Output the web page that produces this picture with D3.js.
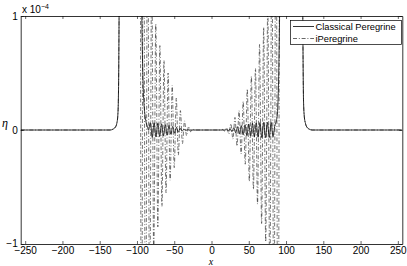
<!DOCTYPE html>
<html><head><meta charset="utf-8">
<script src="https://cdn.jsdelivr.net/npm/d3@7/dist/d3.min.js"></script>
<style>
html,body{margin:0;padding:0;background:#fff;}
svg{display:block;font-family:"Liberation Sans",Arial,sans-serif;}
</style></head><body>
<svg id="c" width="407" height="266"></svg>
<script>
// ---- data (eta in units of 1e-4) ----
const xTicks = [-250,-200,-150,-100,-50,0,50,100,150,200,250];
const yTicks = [-1,0,1];
const seriesNames = ["Classical Peregrine","iPeregrine"];

const classical = [
 [-256,0],[-136,0],[-132,0.008],[-129,0.025],[-127,0.06],[-125.8,0.12],[-125,0.25],[-124.5,0.5],[-124,1.0],[-122.5,3],
 [-96,3],[-93.5,1.0],[-92.5,0.6],[-91.5,0.35],[-90.5,0.22],[-89,0.12],[-87.5,0.06],[-86,0.03],[-84.5,0],
 [-82,0.065],[-79.5,-0.065],[-77,0.063],[-74.5,-0.061],[-72,0.059],[-69.5,-0.057],[-67,0.054],[-64.5,-0.051],
 [-62,0.047],[-59.5,-0.044],[-57,0.04],[-54.5,-0.036],[-52,0.032],[-49.5,-0.028],[-47,0.023],[-44.5,-0.019],
 [-42,0.014],[-39.5,-0.01],[-37,0.006],[-34.5,-0.004],[-32,0.002],[-29,0],
 [18,0],[20,0.003],[22.5,-0.006],[25,0.01],[27.5,-0.014],[30,0.019],[32.5,-0.024],[35,0.029],[37.5,-0.034],
 [40,0.038],[42.5,-0.042],[45,0.046],[47.5,-0.05],[50,0.053],[52.5,-0.056],[55,0.058],[57.5,-0.06],
 [60,0.062],[62.5,-0.064],[65,0.065],[67.5,-0.066],[70,0.066],[72.5,-0.066],[75,0.066],[77.5,-0.066],
 [80,0.066],[82.5,-0.06],[85,0.04],[87,0.08],[88.5,0.15],[89.5,0.3],[90.5,0.6],[91.5,1.1],[92.5,2],[94,3],
 [121,3],[122.5,1.0],[123,0.5],[123.5,0.25],[124.5,0.12],[126,0.06],[128,0.025],[131,0.008],[135,0],[256,0]
];

const iPeregrine = [
 [-256,0],[-136,0],[-132,0.008],[-129,0.025],[-127,0.06],[-125.8,0.12],[-125,0.25],[-124.5,0.5],[-124,1.0],[-122.5,3],
 [-96,3],[-94,-3],[-91.25,3],[-88.5,-2.6],[-85.75,2.2],[-83,-1.8],[-80.25,1.45],[-77.5,-1.1],[-74.75,0.93],
 [-72,-0.85],[-69.25,0.74],[-66.5,-0.67],[-63.75,0.61],[-61,-0.55],[-58.25,0.5],[-55.5,-0.44],[-52.75,0.39],
 [-50,-0.33],[-47.25,0.28],[-44.5,-0.22],[-41.75,0.17],[-39,-0.12],[-36.25,0.08],[-33.5,-0.05],[-30.75,0.03],
 [-28,-0.015],[-25.25,0.007],[-22.5,0],
 [13,0],[15,0.005],[17.75,-0.01],[20.5,0.02],[23.25,-0.035],[26,0.055],[28.75,-0.08],[31.5,0.11],[34.25,-0.14],
 [37,0.17],[39.75,-0.21],[42.5,0.25],[45.25,-0.3],[48,0.36],[50.75,-0.45],[53.5,0.47],[56.25,-0.52],
 [59,0.54],[61.75,-0.65],[64.5,0.75],[67.25,-0.82],[70,0.9],[72.75,-0.98],[75.5,1.1],[78.25,-1.4],
 [81,1.8],[83.75,-2.2],[86.5,2.6],[89.25,-3],[92,3],[94,3],
 [121,3],[122.5,1.0],[123,0.5],[123.5,0.25],[124.5,0.12],[126,0.06],[128,0.025],[131,0.008],[135,0],[256,0]
];

// ---- layout ----
const L = 20.7, R = 402.3, T = 16, B = 244;
const svg = d3.select("#c");
const x = d3.scaleLinear().domain([-256,256]).range([L,R]);
const y = d3.scaleLinear().domain([-1,1]).range([B,T]);
const fmt = d => (d < 0 ? "\u2212" + Math.abs(d) : String(d));
const DASH = "4,1.8,1,1.8";

svg.append("defs").append("clipPath").attr("id","clip")
  .append("rect").attr("x",L).attr("y",T).attr("width",R-L).attr("height",B-T);

// axes
const gB = svg.append("g").attr("transform",`translate(0,${B})`)
  .call(d3.axisBottom(x).tickValues(xTicks).tickFormat(fmt).tickSizeInner(-3).tickSizeOuter(0).tickPadding(3));
const gT = svg.append("g").attr("transform",`translate(0,${T})`)
  .call(d3.axisTop(x).tickValues(xTicks).tickFormat("").tickSizeInner(-3).tickSizeOuter(0));
const gL = svg.append("g").attr("transform",`translate(${L},0)`)
  .call(d3.axisLeft(y).tickValues(yTicks).tickFormat(fmt).tickSizeInner(-3).tickSizeOuter(0).tickPadding(3));
const gR = svg.append("g").attr("transform",`translate(${R},0)`)
  .call(d3.axisRight(y).tickValues(yTicks).tickFormat("").tickSizeInner(-3).tickSizeOuter(0));
[gB,gT,gL,gR].forEach(g=>{
  g.select(".domain").attr("stroke","#000").attr("stroke-width",0.8);
  g.selectAll(".tick line").attr("stroke","#000").attr("stroke-width",0.6);
  g.selectAll("text").attr("fill","#000").style("font-size","10px").style("font-family","'Liberation Sans',Arial,sans-serif");
});
gL.selectAll(".tick text").filter(d=>d===-1).attr("dy","0.2em");

// lines
const line = d3.line().x(d=>x(d[0])).y(d=>y(d[1])).curve(d3.curveMonotoneX);
const plot = svg.append("g").attr("clip-path","url(#clip)");
plot.append("path").datum(iPeregrine).attr("d",line)
  .attr("fill","none").attr("stroke","#000").attr("stroke-width",0.55).attr("stroke-dasharray",DASH);
plot.append("path").datum(classical).attr("d",line)
  .attr("fill","none").attr("stroke","#000").attr("stroke-width",0.8);

// exponent label
const ex = svg.append("text").attr("x",22).attr("y",13).style("font-size","10px");
ex.append("tspan").text("x 10");
ex.append("tspan").attr("dy",-4).style("font-size","7px").text("\u22124");

// axis labels
svg.append("text").attr("x",211).attr("y",265).attr("text-anchor","middle")
  .style("font-family","'Liberation Serif','Times New Roman',serif").style("font-style","italic").style("font-size","10px").text("x");
svg.append("text").attr("x",5).attr("y",127).attr("text-anchor","middle")
  .style("font-family","'Liberation Serif','Times New Roman',serif").style("font-style","italic").style("font-size","12px").text("\u03b7");

// legend
const lg = svg.append("g");
lg.append("rect").attr("x",290.5).attr("y",20.5).attr("width",111).attr("height",24)
  .attr("fill","#fff").attr("stroke","#000").attr("stroke-width",0.7);
const rows = [{dash:null,w:0.8},{dash:DASH,w:0.6}];
rows.forEach((r,i)=>{
  const yy = 26.5 + i*12;
  const ln = lg.append("line").attr("x1",293).attr("x2",314).attr("y1",yy).attr("y2",yy)
    .attr("stroke","#000").attr("stroke-width",r.w);
  if (r.dash) ln.attr("stroke-dasharray",r.dash);
  lg.append("text").attr("x",315.5).attr("y",yy+3.3).style("font-size","9.3px").text(seriesNames[i]);
});
</script>
</body></html>
